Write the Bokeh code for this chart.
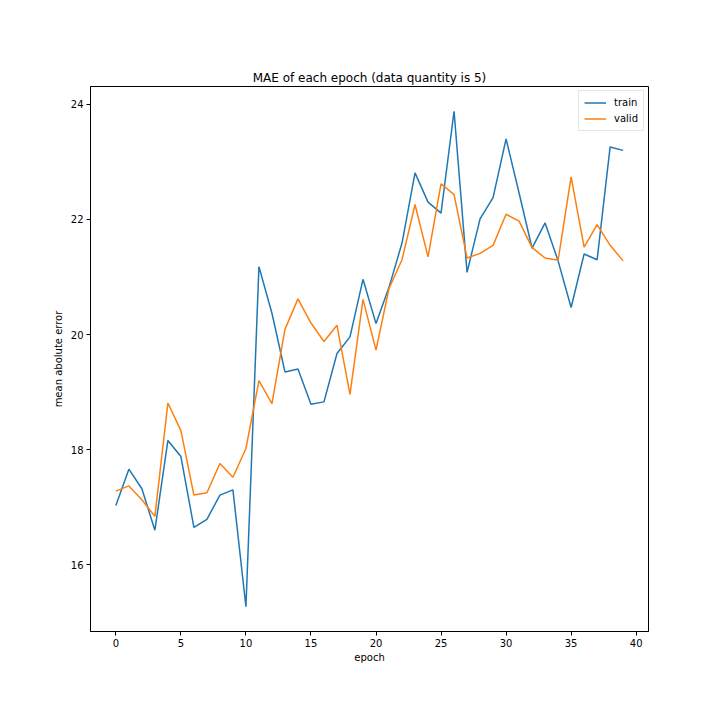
from bokeh.plotting import figure
from bokeh.models import Range1d, FixedTicker, Legend, LegendItem
from bokeh.embed import file_html
from bokeh.resources import INLINE

epochs = list(range(40))
train = [17.03, 17.66, 17.32, 16.60, 18.16, 17.88, 16.65, 16.79, 17.21, 17.30,
         15.27, 21.18, 20.37, 19.35, 19.40, 18.79, 18.83, 19.67, 19.96, 20.96,
         20.19, 20.82, 21.59, 22.81, 22.30, 22.11, 23.88, 21.08, 22.01, 22.38,
         23.40, 22.46, 21.50, 21.94, 21.28, 20.47, 21.40, 21.30, 23.26, 23.20]
valid = [17.28, 17.37, 17.13, 16.84, 18.81, 18.33, 17.21, 17.25, 17.76, 17.52,
         18.02, 19.20, 18.80, 20.09, 20.62, 20.20, 19.88, 20.16, 18.96, 20.61,
         19.73, 20.80, 21.30, 22.26, 21.35, 22.62, 22.43, 21.33, 21.41, 21.55,
         22.09, 21.97, 21.51, 21.33, 21.29, 22.74, 21.52, 21.91, 21.55, 21.28]
x_ticks = [0, 5, 10, 15, 20, 25, 30, 35, 40]
y_ticks = [16, 18, 20, 22, 24]

FONT = "DejaVu Sans"

p = figure(width=720, height=720, output_backend="svg", toolbar_location=None,
           title="MAE of each epoch (data quantity is 5)",
           x_range=Range1d(-1.95, 40.95), y_range=Range1d(14.84, 24.31),
           min_border_left=90, min_border_right=72, min_border_top=86, min_border_bottom=89)

p.title.align = "center"
p.title.text_font = FONT
p.title.text_font_size = "12px"
p.title.text_font_style = "normal"
p.title.text_color = "black"
p.title.standoff = 4

r1 = p.line(epochs, train, line_color="#1f77b4", line_width=1.5)
r2 = p.line(epochs, valid, line_color="#ff7f0e", line_width=1.5)

p.xgrid.visible = False
p.ygrid.visible = False
p.outline_line_color = "black"
p.outline_line_width = 1
p.background_fill_color = "white"
p.border_fill_color = "white"

for ax in (p.xaxis[0], p.yaxis[0]):
    ax.major_label_text_font = FONT
    ax.major_label_text_font_size = "10px"
    ax.major_label_text_color = "black"
    ax.axis_label_text_font = FONT
    ax.axis_label_text_font_size = "10px"
    ax.axis_label_text_font_style = "normal"
    ax.axis_label_text_color = "black"
    ax.axis_line_color = "black"
    ax.major_tick_line_color = "black"
    ax.major_tick_out = 4
    ax.major_tick_in = 0
    ax.minor_tick_line_color = None
    ax.major_label_standoff = 3

p.xaxis[0].ticker = FixedTicker(ticks=x_ticks)
p.yaxis[0].ticker = FixedTicker(ticks=y_ticks)
p.xaxis[0].axis_label = "epoch"
p.yaxis[0].axis_label = "mean abolute error"
p.xaxis[0].axis_label_standoff = 2
p.yaxis[0].axis_label_standoff = 4

legend = Legend(items=[LegendItem(label="train", renderers=[r1]),
                       LegendItem(label="valid", renderers=[r2])],
                location="top_right")
legend.label_text_font = FONT
legend.label_text_font_size = "10px"
legend.label_text_color = "black"
legend.border_line_color = "#cccccc"
legend.border_line_width = 1
legend.glyph_width = 22
legend.glyph_height = 13
legend.label_height = 13
legend.spacing = 3
legend.padding = 5
legend.margin = 4
legend.label_standoff = 8
p.add_layout(legend)

open("out.html", "w").write(file_html(p, INLINE))
